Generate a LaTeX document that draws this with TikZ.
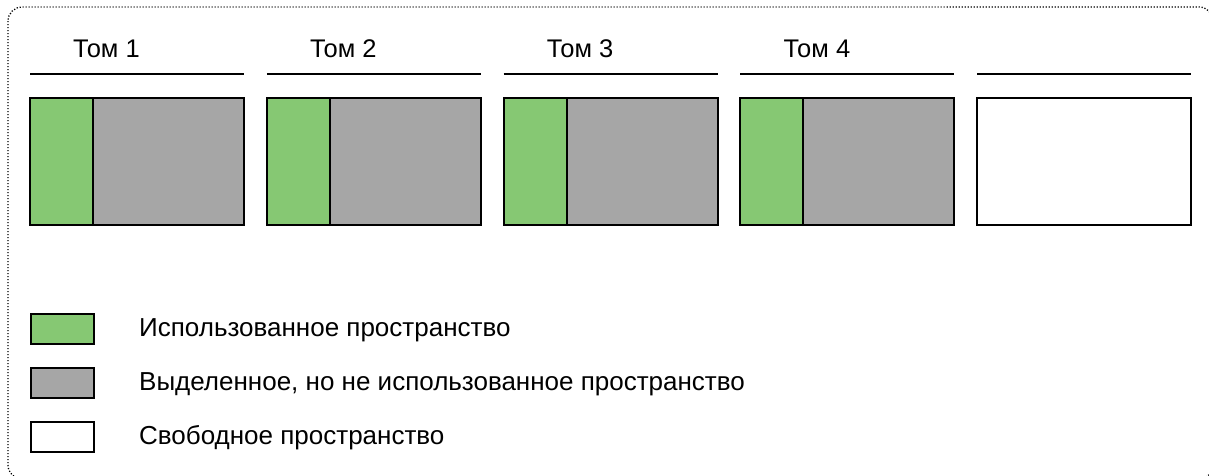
\documentclass[tikz,border=0pt]{standalone}
\usepackage{fontspec}
\setmainfont{Liberation Sans}
\definecolor{usedgreen}{HTML}{86C873}
\definecolor{allocgray}{HTML}{A6A6A6}
\begin{document}
\begin{tikzpicture}[x=1pt,y=-1pt,
  blk/.style={draw=black, line width=2pt, inner sep=0pt, outer sep=0pt, anchor=north west, minimum height=127pt},
  used/.style={blk, fill=usedgreen, minimum width=63pt},
  alloc/.style={blk, fill=allocgray, minimum width=151pt},
  free/.style={blk, fill=white, minimum width=214pt},
  legbox/.style={draw=black, line width=2pt, inner sep=0pt, anchor=north west, minimum width=63pt, minimum height=30pt},
  hdr/.style={line width=2.3pt},
  txt/.style={font=\fontsize{26}{30}\selectfont, inner sep=0pt},
  ttl/.style={font=\fontsize{25.5}{30}\selectfont, inner sep=0pt},
  frame/.style={draw=black, line width=1.3pt, dash pattern=on 1.2pt off 1.8pt, rounded corners=14pt}]
\useasboundingbox (0,0) rectangle (1209,475);
\clip (0,0) rectangle (1209,475);
\draw[frame] (8,7) rectangle (1213,479);

% four volumes: used + allocated parts
\foreach \i in {0,1,2,3} {
  \pgfmathsetmacro{\xo}{30+236.8*\i}
  \pgfmathtruncatemacro{\n}{\i+1}
  \node[used] (u\n) at (\xo,98) {};
  \node[alloc] (a\n) at (u\n.north east) {};
  \coordinate (hl\n) at (\xo,74);
  \coordinate (hr\n) at (\xo+214,74);
  \draw[hdr] (hl\n) -- (hr\n);
  \node[ttl, anchor=base] (t\n) at (\xo+76.5,57.3) {Том \n};
}
% unallocated space
\node[free] (f5) at (977,98) {};
\coordinate (hl5) at (977,74);
\coordinate (hr5) at (1191,74);
\draw[hdr] (hl5) -- (hr5);

% legend
\node[legbox, fill=usedgreen] (lg1) at (30,313) {};
\node[legbox, fill=allocgray] (lg2) at (30,367) {};
\node[legbox, fill=white] (lg3) at (30,420.5) {};
\node[txt, anchor=base west] (lt1) at (139,336.7) {Использованное пространство};
\node[txt, anchor=base west] (lt2) at (139,390.7) {Выделенное, но не использованное пространство};
\node[txt, anchor=base west] (lt3) at (139,444.2) {Свободное пространство};
\end{tikzpicture}
\end{document}
